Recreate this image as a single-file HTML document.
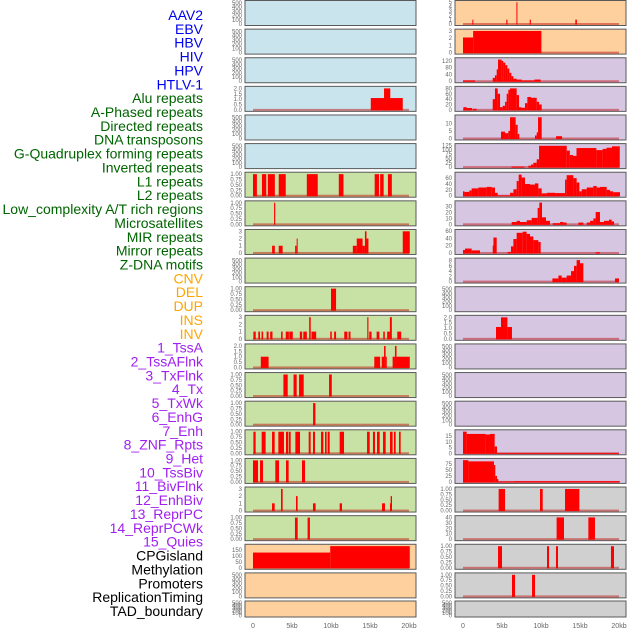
<!DOCTYPE html>
<html><head><meta charset="utf-8"><style>
html,body{margin:0;padding:0;background:#fff;width:630px;height:630px;overflow:hidden}
svg{display:block;font-family:"Liberation Sans",sans-serif}
</style></head><body>
<svg id="chart" width="630" height="630"></svg>
<script>
const trackLabels=["AAV2","EBV","HBV","HIV","HPV","HTLV-1","Alu repeats","A-Phased repeats","Directed repeats","DNA transposons","G-Quadruplex forming repeats","Inverted repeats","L1 repeats","L2 repeats","Low_complexity A/T rich regions","Microsatellites","MIR repeats","Mirror repeats","Z-DNA motifs","CNV","DEL","DUP","INS","INV","1_TssA","2_TssAFlnk","3_TxFlnk","4_Tx","5_TxWk","6_EnhG","7_Enh","8_ZNF_Rpts","9_Het","10_TssBiv","11_BivFlnk","12_EnhBiv","13_ReprPC","14_ReprPCWk","15_Quies","CPGisland","Methylation","Promoters","ReplicationTiming","TAD_boundary"];
const labelGroupSizes=[6,13,5,15,5];
const xTickValues=[0,5,10,15,20];
const xTickLabels=["0","5kb","10kb","15kb","20kb"];
const ticksEmpty=[0,100,200,300,400,500];
const ticksBin=[0,0.25,0.5,0.75,1];
const ticks2=[0,0.5,1,1.5,2];
const ticks3=[0,1,2,3];
// Left column segments [startKb,endKb,value]
const segL3=[[15.1,19.2,1.1],[16.8,17.6,2]];
const segL6=[[0,0.5,1],[1.15,1.7,1],[1.9,2.8,1],[3.3,4.2,1],[6.9,8.3,1],[11.0,11.6,1],[15.6,16.15,1],[16.3,16.75,1],[17.3,17.8,1]];
const segL7=[[2.7,2.85,1]];
const segL8=[[2.45,2.8,1],[3.3,3.8,1],[5.4,5.6,1],[5.6,5.7,2],[12.8,13.3,1],[13.3,14.05,2],[14.05,14.35,1],[14.35,14.55,3],[14.55,14.8,2],[19.2,20.1,3]];
const segL10=[[10.0,10.65,1]];
const segL11=[[0.05,0.35,1],[0.68,0.9,1],[1.1,1.3,1],[1.75,2.0,1],[2.2,2.5,1],[3.6,3.8,1],[4.2,4.6,1],[4.65,5.1,1],[6.0,6.3,1],[6.45,6.9,1],[7.2,7.4,3],[7.5,8.1,1],[9.9,10.1,1],[10.4,10.65,1],[11.7,12.1,1],[12.25,12.5,1],[14.65,14.8,3],[14.9,15.2,1],[15.85,16.2,1],[16.7,16.9,1],[17.2,17.55,1],[17.55,17.8,3],[18.5,19.0,1]];
const segL12=[[1.0,2.0,1],[15.55,16.3,1],[16.5,16.8,1],[16.8,17.0,2],[17.0,17.15,1],[17.9,18.2,1],[18.2,18.4,2],[18.4,20.1,1]];
const segL13=[[3.9,4.45,1],[5.2,5.6,1],[5.9,6.5,1],[9.75,10.1,1]];
const segL14=[[7.7,8.0,1]];
const segL15=[[0.05,0.34,1],[1.11,1.62,1],[2.44,2.78,1],[3.25,3.97,1],[4.23,4.49,1],[4.57,4.83,1],[5.43,6.03,1],[7.14,7.39,1],[7.69,7.95,1],[8.72,9.02,1],[9.23,9.44,1],[9.57,9.83,1],[11.11,11.67,1],[14.62,14.96,1],[15.38,15.64,1],[15.9,16.24,1],[16.67,17.01,1],[17.56,17.9,1],[18.07,18.29,1],[18.72,18.93,1]];
const segL16=[[0,0.64,1],[0.9,1.28,1],[2.86,3.33,1],[4.23,4.57,1],[6.28,6.67,1]];
const segL17=[[2.44,2.78,1],[3.59,3.8,3],[5.51,5.72,2],[7.69,8.03,1],[11.11,11.41,1],[16.54,16.92,1],[17.56,17.65,1],[17.65,17.82,2]];
const segL18=[[5.38,5.73,1],[7.0,7.3,1]];
const segL19=[[0,9.9,130],[9.9,20.1,185]];
// Right column segments
const segR0=[[1.2,1.3,1],[5.55,5.7,1],[6.85,6.95,5],[8.55,8.7,1],[14.4,14.6,1]];
const segR1=[[0,1.3,2.1],[1.3,10.05,3]];
const segR2=[[0,1.54,5],[3.81,4.1,20],[4.1,4.32,35],[4.32,4.49,70],[4.49,4.96,128],[4.96,5.17,120],[5.17,5.43,110],[5.43,5.69,95],[5.69,5.94,75],[5.94,6.2,50],[6.2,6.46,30],[6.46,6.88,15],[6.88,7.52,10],[7.52,9.15,5],[9.15,9.96,10]];
const segR3=[[0.05,0.47,10],[0.47,1.16,7],[1.24,1.75,4],[3.81,4.1,40],[4.1,4.45,80],[4.45,4.75,60],[4.75,5.09,10],[5.09,5.39,15],[5.39,5.6,30],[5.6,5.81,60],[5.81,6.03,75],[6.03,6.88,80],[6.88,7.18,55],[7.18,7.44,10],[7.44,7.95,8],[7.95,8.25,25],[8.25,8.72,48],[8.72,9.45,45],[9.45,9.75,30],[9.75,10.09,20]];
const segR4=[[4.87,5.39,4.5],[5.39,5.81,3.5],[5.81,6.03,5],[6.03,6.75,14],[6.75,7.01,9],[7.01,7.22,3],[9.23,9.45,2],[9.45,9.62,4],[9.62,10.09,14],[11.93,12.7,1.5]];
const segR5=[[6.24,7.87,3],[8.38,8.72,8],[8.72,9.02,15],[9.02,9.45,25],[9.45,9.75,45],[9.75,13.3,123],[13.3,13.7,95],[13.7,14.1,70],[14.1,14.55,65],[14.55,17.1,110],[17.1,17.9,98],[17.9,18.4,105],[18.4,19.1,112],[19.1,20.1,120]];
const segR6=[[0,0.18,15],[0.18,0.81,13],[0.81,1.11,18],[1.11,1.97,25],[1.97,3.03,28],[3.03,3.68,30],[3.68,4.1,28],[4.1,4.45,10],[4.45,6.03,1],[6.03,6.46,10],[6.46,6.88,22],[6.88,7.14,50],[7.14,7.52,72],[7.52,7.95,62],[7.95,8.59,40],[8.59,9.23,38],[9.23,9.66,42],[9.66,10.09,25],[10.09,10.73,8],[10.73,11.8,10],[11.8,13.08,9],[13.08,13.29,55],[13.29,14.15,70],[14.15,14.57,60],[14.57,14.92,45],[14.92,15.22,15],[15.22,15.86,22],[15.86,16.71,28],[16.71,17.14,33],[17.14,17.56,28],[17.56,18.42,30],[18.42,18.85,20],[18.85,19.27,15],[19.27,20.13,12]];
const segR7=[[6.24,6.88,4],[6.88,7.31,6],[7.31,8.17,4],[8.17,8.8,7],[8.8,9.57,11],[9.57,9.79,28],[9.79,10.13,37],[10.13,10.64,12],[10.64,11.15,6],[11.5,12.44,2],[12.44,12.87,4],[12.87,13.29,3],[14.79,15.43,3],[15.86,16.29,3],[16.29,16.71,6],[16.71,17.01,10],[17.01,17.56,21],[17.56,18.07,4],[18.07,18.72,6],[18.72,19.06,8],[19.06,19.36,5]];
const segR8=[[0,0.26,8],[0.26,1.11,12],[1.11,2.18,7],[3.81,4.02,20],[3.9,4.32,42],[5.73,6.15,3],[6.15,6.46,18],[6.46,6.88,38],[6.88,7.65,55],[7.65,8.16,58],[8.16,8.59,52],[8.59,9.02,45],[9.02,9.66,35],[9.66,9.96,30],[17.01,17.56,2]];
const segR9=[[11.46,12.23,1.2],[12.23,12.65,2.3],[12.65,13.29,1.5],[13.29,13.85,2.3],[13.85,14.23,4],[14.23,14.57,6],[14.57,15.0,8.2],[15.0,15.43,7],[19.49,20.0,1.2]];
const segR11=[[4.23,4.87,1.1],[4.87,5.69,2],[5.69,6.28,1.1]];
const segR15=[[0,0.47,19],[0.47,2.9,17],[2.9,3.46,16.5],[3.46,4.06,17],[4.06,4.36,6],[4.36,20,0.3]];
const segR16=[[0,0.69,90],[0.69,3.97,85],[3.97,4.14,70],[4.14,4.36,25],[4.36,4.53,12],[4.53,6.57,2],[6.57,20.13,3]];
const segR17=[[4.57,5.39,1],[9.87,10.22,1],[13.08,14.92,1]];
const segR18=[[12.0,12.95,40],[16.07,16.92,40]];
const segR19=[[4.49,5.0,1],[10.77,11.03,1],[11.92,12.18,1],[18.97,19.36,1]];
const segR20=[[6.28,6.67,1],[8.85,9.23,1]];

const BLUE="#c9e4ec",GREEN="#c8e1a5",PEACH="#fed09e",LAV="#d6c6e2",GRAY="#d0d0d0";
const leftPanels=[
 [BLUE,ticksEmpty,520,null],[BLUE,ticksEmpty,520,null],[BLUE,ticksEmpty,520,null],
 [BLUE,ticks2,2.05,segL3],[BLUE,ticksEmpty,520,null],[BLUE,ticksEmpty,520,null],
 [GREEN,ticksBin,1.02,segL6],[GREEN,ticksBin,1.02,segL7],[GREEN,ticks3,3.05,segL8],
 [GREEN,ticksEmpty,520,null],[GREEN,ticksBin,1.02,segL10],[GREEN,ticks3,3.05,segL11],
 [GREEN,ticks2,2.05,segL12],[GREEN,ticksBin,1.02,segL13],[GREEN,ticksBin,1.02,segL14],
 [GREEN,ticksBin,1.02,segL15],[GREEN,ticksBin,1.02,segL16],[GREEN,ticks3,3.05,segL17],
 [GREEN,ticksBin,1.02,segL18],[PEACH,[0,50,100,150],188,segL19],[PEACH,ticksEmpty,520,null],[PEACH,ticksEmpty,520,null]];
const rightPanels=[
 [PEACH,[0,1,2,3,4,5],5.05,segR0],[PEACH,ticks3,3.05,segR1],[LAV,[0,40,80,120],130,segR2],
 [LAV,[0,20,40,60,80],82,segR3],[LAV,[0,5,10],14.5,segR4],[LAV,[0,25,50,75,100,125],127,segR5],
 [LAV,[0,20,40,60],75,segR6],[LAV,[0,10,20,30],37.5,segR7],[LAV,[0,20,40,60],60,segR8],
 [LAV,[0,2,4,6,8],8.4,segR9],[LAV,ticksEmpty,520,null],[LAV,ticks2,2.05,segR11],
 [LAV,ticksEmpty,520,null],[LAV,ticksEmpty,520,null],[LAV,ticksEmpty,520,null],
 [LAV,[0,5,10,15],19.3,segR15],[LAV,[0,25,50,75],91,segR16],[GRAY,ticksBin,1.02,segR17],
 [GRAY,[0,10,20,30,40],40.5,segR18],[GRAY,ticksBin,1.02,segR19],[GRAY,ticksBin,1.02,segR20],[GRAY,ticksEmpty,520,null]];

const NS="http://www.w3.org/2000/svg";
const svg=document.getElementById("chart");
function mk(tag,attrs,parent){const e=document.createElementNS(NS,tag);for(const k in attrs)e.setAttribute(k,attrs[k]);(parent||svg).appendChild(e);return e;}
function fmt(v,ticks){const dec=ticks.some(t=>t%1!==0)?(ticks.some(t=>(t*10)%1!==0)?2:1):0;return v.toFixed(dec);}

// labels
const groupColors=["#0000ee","#006400","#ffa500","#a020f0","#000000"];
let gi=0,cnt=0;
trackLabels.forEach((t,i)=>{
 if(cnt>=labelGroupSizes[gi]){gi++;cnt=0;}cnt++;
 const tx=mk("text",{x:203,y:15+i*13.86+5,"text-anchor":"end","font-size":"14",fill:groupColors[gi]});
 tx.textContent=t;
 
 
});

function drawColumn(panels,x0,side){
 const x1=x0+171, xs=kb=>x0+8+kb*7.8;
 panels.forEach((p,i)=>{
  const [bg,ticks,ymax,segs]=p;
  const top=i<21?0.5+i*28.62:601, h=i<21?25:16, bot=top+h;
  const ys=v=>bot-1.5-Math.min(v,ymax)/ymax*(h-3);
  const g=mk("g",{});
  
  
  mk("rect",{x:x0,y:top,width:x1-x0,height:h,fill:bg,stroke:"#5a5a5a","stroke-width":1},g);
  if(segs){
   mk("rect",{x:xs(0),y:bot-2.5,width:xs(20)-xs(0),height:2,fill:"rgba(190,0,0,0.45)"},g);
   segs.forEach(s=>{
    const r=mk("rect",{x:xs(s[0]),y:ys(s[2]),width:Math.max(1,xs(s[1])-xs(s[0])),height:ys(0)-ys(s[2])+0.5,fill:"#ff0000"},g);
    
    
   });
  }
  ticks.forEach(t=>{
   const tt=mk("text",{x:x0-3,y:ys(t)+2,"text-anchor":"end","font-size":"6",fill:"#666"},g);
   tt.textContent=fmt(t,ticks);
   
   
  });
 });
 xTickValues.forEach((v,k)=>{
  const t=mk("text",{x:xs(v),y:628,"text-anchor":"middle","font-size":"7",fill:"#666"});
  t.textContent=xTickLabels[k];
  
  
 });
}
drawColumn(leftPanels,245,"left");
drawColumn(rightPanels,455,"right");
</script>
</body></html>
